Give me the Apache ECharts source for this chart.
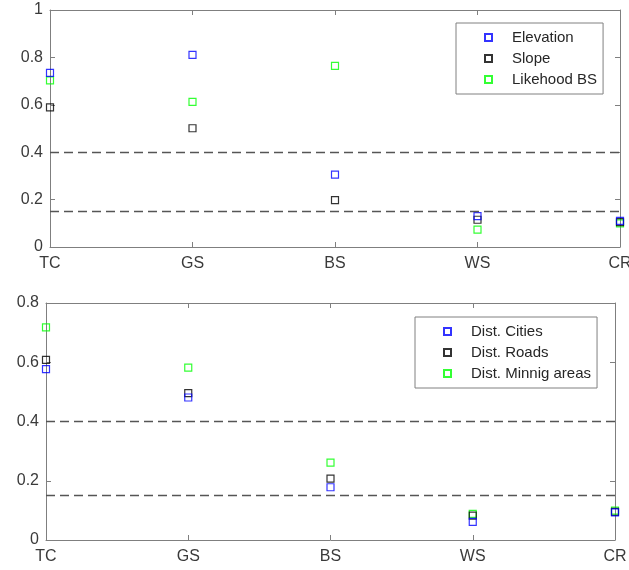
<!DOCTYPE html>
<html>
<head>
<meta charset="utf-8">
<script src="https://cdn.jsdelivr.net/npm/echarts@6/dist/echarts.min.js"></script>
<style>
  html, body { margin: 0; padding: 0; background: #fff; }
  #main { width: 629px; height: 570px; }
</style>
</head>
<body>
<div id="main"></div>
<script type="text/javascript">
    // 类别（x轴）
    var categories = ['TC', 'GS', 'BS', 'WS', 'CR'];

    // 上图数据
    var elevation   = [0.735, 0.811, 0.305, 0.130, 0.110];
    var slope       = [0.589, 0.501, 0.198, 0.115, 0.105];
    var likehoodBS  = [0.703, 0.612, 0.764, 0.073, 0.100];

    // 下图数据
    var distCities  = [0.577, 0.481, 0.178, 0.061, 0.093];
    var distRoads   = [0.608, 0.496, 0.207, 0.082, 0.095];
    var distMining  = [0.718, 0.582, 0.261, 0.088, 0.099];

    // 阈值虚线
    var thresholds = [0.4, 0.15];

    var axisGray = '#7f7f7f';
    var textColor = '#3a3a3a';
    var fontFamily = 'Liberation Sans, Arial, sans-serif';

    function squareSeries(name, data, color, idx){
        return {
            name: name,
            type: 'scatter',
            xAxisIndex: idx,
            yAxisIndex: idx,
            symbol: 'rect',
            symbolSize: 7,
            itemStyle: { color: 'rgba(0,0,0,0)', borderColor: color, borderWidth: 1.2 },
            data: data.map(function(v, i){ return [i, v]; }),
            z: 3
        };
    }

    function thresholdSeries(idx){
        return {
            type: 'line',
            xAxisIndex: idx,
            yAxisIndex: idx,
            data: [],
            silent: true,
            markLine: {
                symbol: 'none',
                silent: true,
                label: { show: false },
                lineStyle: { color: '#555', width: 1.3, type: [9, 5] },
                data: thresholds.map(function(t){ return { yAxis: t }; })
            }
        };
    }

    var tick = { show: true, inside: true, length: 5, lineStyle: { color: axisGray } };

    function mainX(idx){
        return {
            type: 'value', gridIndex: idx, min: 0, max: 4, interval: 1,
            axisLine: { onZero: false, lineStyle: { color: axisGray, width: 1 } },
            axisTick: tick,
            axisLabel: {
                color: textColor, fontSize: 16, fontFamily: fontFamily, margin: 9,
                formatter: function(v){ return categories[v] || ''; }
            },
            splitLine: { show: false }
        };
    }
    function topX(idx){
        return {
            type: 'value', gridIndex: idx, position: 'top', min: 0, max: 4, interval: 1,
            axisLine: { onZero: false, lineStyle: { color: axisGray, width: 1 } },
            axisTick: tick,
            axisLabel: { show: false },
            splitLine: { show: false }
        };
    }
    function mainY(idx, max){
        return {
            type: 'value', gridIndex: idx, min: 0, max: max, interval: 0.2,
            axisLine: { show: true, onZero: false, lineStyle: { color: axisGray, width: 1 } },
            axisTick: tick,
            axisLabel: {
                color: textColor, fontSize: 16, fontFamily: fontFamily, margin: 7,
                formatter: function(v){ return String(Math.round(v * 10) / 10); }
            },
            splitLine: { show: false }
        };
    }
    function rightY(idx, max){
        return {
            type: 'value', gridIndex: idx, position: 'right', min: 0, max: max, interval: 0.2,
            axisLine: { show: true, onZero: false, lineStyle: { color: axisGray, width: 1 } },
            axisTick: tick,
            axisLabel: { show: false },
            splitLine: { show: false }
        };
    }

    function legendBox(names, left, top){
        return {
            orient: 'vertical',
            left: left,
            top: top,
            icon: 'rect',
            itemWidth: 7,
            itemHeight: 7,
            itemGap: 6,
            padding: [7, 6, 7, 28],
            borderColor: '#808080',
            borderWidth: 1,
            backgroundColor: '#fff',
            textStyle: { color: '#262626', fontSize: 15, fontFamily: fontFamily, padding: [0, 0, 0, 15] },
            data: names
        };
    }

    var myChart = echarts.init(document.getElementById('main'));

    var option = {
        animation: false,
        backgroundColor: '#fff',
        grid: [
            { left: 50, top: 10, right: 9, height: 237, outerBoundsMode: 'none', containLabel: false },
            { left: 46, top: 303, right: 14, height: 237, outerBoundsMode: 'none', containLabel: false }
        ],
        xAxis: [mainX(0), mainX(1), topX(0), topX(1)],
        yAxis: [mainY(0, 1), mainY(1, 0.8), rightY(0, 1), rightY(1, 0.8)],
        legend: [
            legendBox(['Elevation', 'Slope', 'Likehood BS'], 456, 23),
            legendBox(['Dist. Cities', 'Dist. Roads', 'Dist. Minnig areas'], 415, 317)
        ],
        series: [
            thresholdSeries(0),
            thresholdSeries(1),
            squareSeries('Likehood BS', likehoodBS, '#00ff00', 0),
            squareSeries('Slope', slope, '#000000', 0),
            squareSeries('Elevation', elevation, '#0000ff', 0),
            squareSeries('Dist. Minnig areas', distMining, '#00ff00', 1),
            squareSeries('Dist. Roads', distRoads, '#000000', 1),
            squareSeries('Dist. Cities', distCities, '#0000ff', 1)
        ]
    };

    myChart.setOption(option);
</script>
</body>
</html>
